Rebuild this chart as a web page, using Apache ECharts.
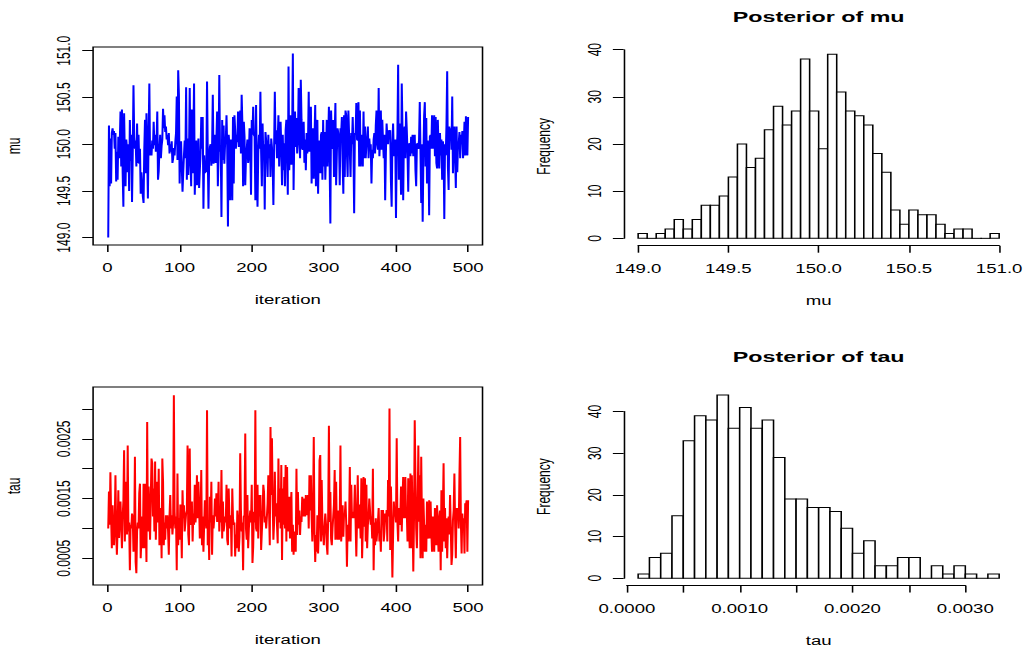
<!DOCTYPE html>
<html><head><meta charset="utf-8">
<script src="https://cdn.jsdelivr.net/npm/echarts@6.0.0/dist/echarts.min.js"></script>
<style>
html,body{margin:0;padding:0;background:#fff;overflow:hidden;width:1024px;height:648px}
#chart{width:660px;height:648px;transform:scaleX(1.551515);transform-origin:0 0}
</style></head><body><div id="chart"></div>
<script>
// ---- data ----
const muTrace = [
149.00,150.20,149.55,150.06,149.58,150.12,150.17,150.10,150.14,149.95,
150.12,149.60,149.92,149.62,150.08,149.85,150.02,150.35,149.76,150.37,
149.70,149.33,150.33,149.88,149.55,150.05,149.95,149.70,150.00,149.50,
150.26,149.82,150.10,149.38,149.90,150.63,150.08,149.95,150.04,149.76,
150.22,149.80,150.10,149.79,149.95,149.47,149.70,149.70,149.44,149.37,
149.95,150.26,149.69,150.33,149.90,149.42,150.10,150.65,149.88,149.92,
149.88,150.04,149.95,150.24,149.99,150.10,149.92,150.01,150.35,149.62,
149.71,149.95,150.10,149.85,149.98,150.05,150.38,150.17,150.31,150.13,
150.19,150.05,150.10,149.99,150.12,149.90,150.00,149.92,150.03,149.80,
149.85,149.96,149.88,150.02,150.12,150.51,149.83,150.79,150.53,149.58,
149.95,150.03,149.75,149.49,149.70,149.88,150.04,149.85,150.61,149.62,
150.06,149.67,149.90,150.60,149.85,149.55,150.37,149.69,150.05,150.65,
149.46,149.80,150.04,149.56,149.69,150.06,149.53,149.72,149.90,150.29,
149.95,150.29,149.31,149.88,149.69,149.80,149.70,150.67,149.90,149.31,
149.85,149.97,150.00,149.77,149.97,150.53,149.79,149.90,150.10,149.80,
150.05,150.35,149.55,149.90,150.74,149.92,149.98,149.22,150.26,149.83,
150.20,149.79,150.00,150.04,150.31,149.95,149.12,150.10,150.00,149.40,
150.05,149.90,149.40,150.29,149.58,150.31,150.15,149.95,150.10,150.02,
150.35,149.97,150.19,150.36,149.90,150.53,150.22,149.55,150.24,150.08,
149.56,149.85,149.95,150.05,149.80,149.87,150.17,149.95,149.46,150.26,
150.10,150.40,150.10,150.08,149.40,150.42,149.72,149.33,149.90,150.10,
149.95,150.56,149.92,149.55,150.22,149.88,150.00,149.30,150.13,150.04,
149.90,149.65,150.10,149.85,150.00,149.65,150.06,149.97,149.80,149.35,
149.95,150.56,150.00,150.15,149.85,150.05,150.31,149.76,150.04,150.24,
149.95,149.56,150.10,149.72,150.01,149.55,150.15,150.26,149.90,149.46,
150.83,149.72,150.00,150.31,149.78,150.10,150.97,149.51,150.10,150.35,
149.97,150.28,149.90,150.05,150.60,150.12,149.85,150.69,150.26,149.95,
149.94,150.24,149.80,150.05,149.72,150.12,149.90,150.00,150.56,149.92,
150.15,150.40,149.58,149.95,150.17,149.63,150.05,150.42,149.55,149.90,
150.26,149.47,150.00,150.04,149.69,150.10,150.13,149.62,150.26,149.76,
150.13,149.62,149.90,150.26,149.76,150.05,150.40,149.80,149.15,150.36,
150.04,149.95,150.26,149.65,150.10,150.44,149.56,149.90,150.17,150.12,
150.00,149.56,150.17,150.12,150.29,149.80,149.47,150.31,149.65,150.36,
150.31,149.90,149.65,150.36,150.10,149.92,149.65,150.12,150.00,150.29,
149.95,149.26,150.12,150.10,150.44,150.05,150.04,150.45,149.76,150.36,
149.76,150.00,150.10,149.76,150.35,149.85,150.19,149.85,150.00,150.06,
150.19,149.85,150.06,149.95,150.00,149.58,149.94,149.85,150.05,150.12,
149.90,150.20,150.36,150.00,149.94,150.60,149.87,150.05,150.36,149.94,
150.26,150.04,149.85,150.10,149.40,149.90,150.22,150.08,150.00,150.15,
150.10,150.15,149.60,149.33,150.00,150.22,149.87,149.95,150.05,149.21,
149.90,150.10,150.85,149.62,150.22,150.00,149.46,150.65,150.17,149.40,
150.10,150.19,149.85,150.35,150.15,149.90,149.49,150.00,150.01,149.87,
150.08,149.90,150.10,149.87,150.05,150.10,149.72,149.55,150.00,150.01,
149.95,150.05,150.45,149.90,149.37,150.00,149.17,149.85,150.30,150.45,
149.76,150.28,149.58,150.04,149.90,149.24,150.08,150.10,149.95,150.31,
149.95,150.10,150.31,149.87,150.29,149.80,149.74,150.26,149.95,149.74,
150.12,149.88,150.05,149.62,150.03,149.95,149.20,150.00,149.88,150.20,
150.78,149.76,149.51,150.19,150.05,150.17,149.94,150.51,149.69,150.05,
150.19,149.85,149.53,150.19,149.70,150.00,150.01,150.13,149.85,150.10,
150.00,150.14,149.85,150.00,150.24,149.88,150.30,149.95,149.88,150.29
];
const tauTrace = [
0.00100,0.00162,0.00106,0.00194,0.00120,0.00067,0.00139,0.00090,0.00072,0.00110,
0.00189,0.00095,0.00056,0.00100,0.00164,0.00084,0.00117,0.00145,0.00105,0.00067,
0.00120,0.00145,0.00231,0.00078,0.00130,0.00178,0.00090,0.00239,0.00095,0.00110,
0.00030,0.00106,0.00100,0.00125,0.00117,0.00061,0.00090,0.00220,0.00044,0.00025,
0.00095,0.00110,0.00100,0.00159,0.00175,0.00050,0.00083,0.00120,0.00067,0.00175,
0.00067,0.00175,0.00117,0.00044,0.00278,0.00095,0.00170,0.00125,0.00081,0.00150,
0.00217,0.00209,0.00120,0.00167,0.00095,0.00212,0.00081,0.00140,0.00178,0.00110,
0.00200,0.00072,0.00110,0.00134,0.00050,0.00217,0.00178,0.00072,0.00110,0.00081,
0.00122,0.00100,0.00122,0.00095,0.00056,0.00122,0.00156,0.00100,0.00122,0.00090,
0.00110,0.00323,0.00128,0.00100,0.00120,0.00030,0.00192,0.00072,0.00117,0.00081,
0.00140,0.00117,0.00050,0.00164,0.00117,0.00139,0.00095,0.00110,0.00125,0.00130,
0.00239,0.00090,0.00072,0.00234,0.00106,0.00120,0.00145,0.00078,0.00125,0.00106,
0.00173,0.00110,0.00130,0.00189,0.00117,0.00178,0.00139,0.00083,0.00110,0.00198,
0.00072,0.00120,0.00061,0.00106,0.00147,0.00120,0.00100,0.00298,0.00072,0.00106,
0.00047,0.00153,0.00110,0.00178,0.00056,0.00122,0.00100,0.00117,0.00150,0.00120,
0.00159,0.00111,0.00122,0.00178,0.00095,0.00130,0.00110,0.00198,0.00083,0.00145,
0.00095,0.00106,0.00120,0.00110,0.00173,0.00081,0.00072,0.00167,0.00122,0.00100,
0.00122,0.00053,0.00167,0.00117,0.00106,0.00110,0.00053,0.00090,0.00067,0.00130,
0.00111,0.00061,0.00086,0.00226,0.00130,0.00095,0.00110,0.00030,0.00120,0.00122,
0.00259,0.00100,0.00081,0.00156,0.00067,0.00100,0.00117,0.00130,0.00110,0.00173,
0.00042,0.00069,0.00128,0.00110,0.00298,0.00100,0.00095,0.00173,0.00083,0.00156,
0.00120,0.00156,0.00064,0.00095,0.00122,0.00173,0.00161,0.00110,0.00120,0.00100,
0.00120,0.00142,0.00189,0.00130,0.00072,0.00270,0.00156,0.00251,0.00145,0.00081,
0.00110,0.00195,0.00120,0.00142,0.00106,0.00075,0.00217,0.00110,0.00167,0.00100,
0.00206,0.00047,0.00167,0.00106,0.00186,0.00100,0.00206,0.00078,0.00203,0.00095,
0.00106,0.00153,0.00083,0.00134,0.00161,0.00061,0.00106,0.00056,0.00095,0.00072,
0.00061,0.00200,0.00089,0.00161,0.00106,0.00130,0.00089,0.00120,0.00111,0.00153,
0.00139,0.00120,0.00150,0.00120,0.00156,0.00122,0.00130,0.00156,0.00100,0.00189,
0.00130,0.00189,0.00120,0.00078,0.00130,0.00253,0.00095,0.00044,0.00089,0.00061,
0.00122,0.00058,0.00100,0.00214,0.00223,0.00078,0.00181,0.00106,0.00106,0.00072,
0.00106,0.00125,0.00106,0.00072,0.00056,0.00120,0.00272,0.00111,0.00161,0.00083,
0.00072,0.00100,0.00120,0.00140,0.00198,0.00081,0.00178,0.00095,0.00081,0.00130,
0.00081,0.00110,0.00239,0.00078,0.00106,0.00139,0.00086,0.00125,0.00122,0.00145,
0.00110,0.00036,0.00106,0.00078,0.00109,0.00203,0.00078,0.00173,0.00117,0.00128,
0.00117,0.00128,0.00173,0.00110,0.00053,0.00117,0.00189,0.00100,0.00140,0.00120,
0.00083,0.00184,0.00050,0.00100,0.00186,0.00103,0.00184,0.00078,0.00173,0.00067,
0.00106,0.00120,0.00150,0.00130,0.00106,0.00120,0.00083,0.00200,0.00030,0.00110,
0.00072,0.00117,0.00078,0.00095,0.00111,0.00134,0.00078,0.00095,0.00061,0.00131,
0.00111,0.00131,0.00078,0.00095,0.00125,0.00111,0.00131,0.00078,0.00181,0.00120,
0.00301,0.00064,0.00170,0.00100,0.00018,0.00089,0.00145,0.00120,0.00128,0.00110,
0.00251,0.00111,0.00078,0.00134,0.00106,0.00122,0.00170,0.00095,0.00147,0.00186,
0.00117,0.00128,0.00186,0.00117,0.00128,0.00078,0.00184,0.00110,0.00067,0.00192,
0.00067,0.00189,0.00120,0.00028,0.00117,0.00281,0.00184,0.00100,0.00067,0.00130,
0.00239,0.00111,0.00189,0.00050,0.00220,0.00111,0.00050,0.00150,0.00106,0.00061,
0.00106,0.00061,0.00145,0.00095,0.00083,0.00147,0.00083,0.00145,0.00095,0.00061,
0.00120,0.00095,0.00061,0.00134,0.00111,0.00072,0.00139,0.00100,0.00061,0.00117,
0.00130,0.00030,0.00164,0.00061,0.00120,0.00209,0.00078,0.00134,0.00067,0.00117,
0.00050,0.00100,0.00120,0.00090,0.00156,0.00100,0.00039,0.00056,0.00114,0.00130,
0.00192,0.00106,0.00050,0.00134,0.00117,0.00134,0.00100,0.00189,0.00253,0.00110,
0.00058,0.00125,0.00100,0.00117,0.00058,0.00142,0.00139,0.00147,0.00061,0.00147
];
// histogram counts (bins of equal width)
const muHistCounts = [1,0,1,2,4,2,4,7,7,9,13,20,15,17,23,28,24,27,38,27,19,39,31,27,26,24,18,14,6,3,6,5,5,3,1,2,2,0,0,1];
const muHistStart = 149.0, muHistWidth = 0.05;
const tauHistCounts = [1,5,6,15,33,39,38,44,36,41,36,38,29,19,19,17,17,16,12,6,9,3,3,5,5,0,3,1,3,1,0,1];
const tauHistStart = 0.0001, tauHistWidth = 0.0001;
// ticks and labels
const iterTicks = [0,100,200,300,400,500];
const muTraceTicks = [149.0,149.5,150.0,150.5,151.0];
const tauTraceTicks = [0.0005,0.0010,0.0015,0.0020,0.0025,0.0030];
const tauTraceLabels = [0.0005,0.0015,0.0025];
const muHistTicks = [149.0,149.5,150.0,150.5,151.0];
const tauHistTicks = [0,0.0005,0.0010,0.0015,0.0020,0.0025,0.0030];
const tauHistLabels = [0,0.0010,0.0020,0.0030];
const freqTicks = [0,10,20,30,40];

// ---- layout (unscaled px; the chart is stretched horizontally to 1024) ----
const FONT = "'Liberation Sans', Arial, Helvetica, sans-serif";
const L = {
  muTrace:  {left: 60,  top: 47,    width: 251,   height: 198},
  tauTrace: {left: 60,  top: 387,   width: 251,   height: 198},
  muHist:   {left: 402, top: 47,    width: 251.3, height: 198.7},
  tauHist:  {left: 402, top: 387.6, width: 251.3, height: 198}
};
const RX = {
  trace: [-20, 520],
  muTraceY: [148.921, 151.04],
  tauTraceY: [0.000053, 0.003368],
  muHistX: [148.92, 151.08], muHistY: [-1.56, 40.56],
  tauHistX: [-0.000028, 0.003428], tauHistY: [-1.76, 45.76]
};
function subX(p, r, a, b) { const k = p.width / (r[1] - r[0]); return {left: p.left + (a - r[0]) * k, width: (b - a) * k, top: p.top, height: p.height}; }
function subY(p, r, a, b) { const k = p.height / (r[1] - r[0]); return {left: p.left, width: p.width, top: p.top + (r[1] - b) * k, height: (b - a) * k}; }
function grid(p, box) {
  return {left: p.left, top: p.top, width: p.width, height: p.height, containLabel: false, outerBoundsMode: 'none',
    show: !!box, borderColor: '#000', borderWidth: box ? 1 : 0, backgroundColor: 'transparent'};
}
const txt = {color: '#000', fontFamily: FONT, fontSize: 12};
function axis(gi, range, o) {
  o = o || {};
  return {
    type: 'value', gridIndex: gi, min: range[0], max: range[1], show: o.hidden ? false : true,
    splitLine: {show: false},
    axisLine: {show: !!o.line, onZero: false, lineStyle: {color: '#000', width: 1}},
    axisTick: o.ticks ? {show: true, inside: false, length: 7, customValues: o.ticks, lineStyle: {color: '#000', width: 1}} : {show: false},
    axisLabel: o.labels ? Object.assign({show: true, customValues: o.labels, formatter: o.fmt, margin: o.margin, rotate: o.rotate || 0,
      hideOverlap: false, showMinLabel: true, showMaxLabel: true}, txt) : {show: false},
    name: o.name || '', nameLocation: 'middle', nameGap: o.nameGap || 0, nameTextStyle: txt
  };
}
const f1 = v => v.toFixed(1), f4 = v => v.toFixed(4), f0 = v => String(Math.round(v));
const XM = 17, YM = 13, XNG = 49, YNG = 45.5;

const gMuHx = subX(L.muHist, RX.muHistX, 149.0, 151.0);
const gMuHy = subY(L.muHist, RX.muHistY, 0, 40);
const gTauHx = subX(L.tauHist, RX.tauHistX, 0, 0.0030);
const gTauHy = subY(L.tauHist, RX.tauHistY, 0, 40);

function histData(counts, start, width) {
  return counts.map((c, i) => [start + i * width, start + (i + 1) * width, c]);
}
function histRender(params, api) {
  const p0 = api.coord([api.value(0), api.value(2)]);
  const p1 = api.coord([api.value(1), 0]);
  return {type: 'rect', shape: {x: p0[0], y: p0[1], width: p1[0] - p0[0], height: Math.max(p1[1] - p0[1], 0.01)},
    style: {fill: '#fff', stroke: '#000', lineWidth: 1}};
}

const option = {
  animation: false,
  backgroundColor: '#fff',
  grid: [grid(L.muTrace, true), grid(L.tauTrace, true), grid(L.muHist), grid(gMuHx), grid(gMuHy),
         grid(L.tauHist), grid(gTauHx), grid(gTauHy)],
  xAxis: [
    axis(0, RX.trace, {ticks: iterTicks, labels: iterTicks, fmt: f0, margin: XM, name: 'iteration', nameGap: XNG}),
    axis(1, RX.trace, {ticks: iterTicks, labels: iterTicks, fmt: f0, margin: XM, name: 'iteration', nameGap: XNG}),
    axis(2, RX.muHistX, {name: 'mu', nameGap: XNG}),
    axis(3, [149.0, 151.0], {line: true, ticks: muHistTicks, labels: muHistTicks, fmt: f1, margin: XM}),
    axis(4, [0, 1], {hidden: true}),
    axis(5, RX.tauHistX, {name: 'tau', nameGap: XNG}),
    axis(6, [0, 0.0030], {line: true, ticks: tauHistTicks, labels: tauHistLabels, fmt: f4, margin: XM}),
    axis(7, [0, 1], {hidden: true})
  ],
  yAxis: [
    axis(0, RX.muTraceY, {ticks: muTraceTicks, labels: muTraceTicks, fmt: f1, margin: YM, rotate: 90, name: 'mu', nameGap: YNG}),
    axis(1, RX.tauTraceY, {ticks: tauTraceTicks, labels: tauTraceLabels, fmt: f4, margin: YM, rotate: 90, name: 'tau', nameGap: YNG}),
    axis(2, RX.muHistY, {name: 'Frequency', nameGap: YNG}),
    axis(3, [0, 1], {hidden: true}),
    axis(4, [0, 40], {line: true, ticks: freqTicks, labels: freqTicks, fmt: f0, margin: YM, rotate: 90}),
    axis(5, RX.tauHistY, {name: 'Frequency', nameGap: YNG}),
    axis(6, [0, 1], {hidden: true}),
    axis(7, [0, 40], {line: true, ticks: freqTicks, labels: freqTicks, fmt: f0, margin: YM, rotate: 90})
  ],
  graphic: [
    {type: 'text', x: L.muHist.left + L.muHist.width / 2, y: 16.7,
     style: {text: 'Posterior of mu', fill: '#000', font: 'bold 15px ' + FONT, align: 'center', textAlign: 'center', verticalAlign: 'middle', textVerticalAlign: 'middle'}},
    {type: 'text', x: L.tauHist.left + L.tauHist.width / 2, y: 356.9,
     style: {text: 'Posterior of tau', fill: '#000', font: 'bold 15px ' + FONT, align: 'center', textAlign: 'center', verticalAlign: 'middle', textVerticalAlign: 'middle'}}
  ],
  series: [
    {type: 'line', xAxisIndex: 0, yAxisIndex: 0, showSymbol: false, symbol: 'none', clip: false,
     lineStyle: {color: '#0000ff', width: 1.3}, itemStyle: {color: '#0000ff'},
     data: muTrace.map((v, i) => [i + 1, v])},
    {type: 'line', xAxisIndex: 1, yAxisIndex: 1, showSymbol: false, symbol: 'none', clip: false,
     lineStyle: {color: '#ff0000', width: 1.3}, itemStyle: {color: '#ff0000'},
     data: tauTrace.map((v, i) => [i + 1, v])},
    {type: 'custom', xAxisIndex: 2, yAxisIndex: 2, clip: false, renderItem: histRender,
     encode: {x: [0, 1], y: 2}, data: histData(muHistCounts, muHistStart, muHistWidth)},
    {type: 'custom', xAxisIndex: 5, yAxisIndex: 5, clip: false, renderItem: histRender,
     encode: {x: [0, 1], y: 2}, data: histData(tauHistCounts, tauHistStart, tauHistWidth)}
  ]
};
const chart = echarts.init(document.getElementById('chart'), null, {renderer: 'svg', width: 660, height: 648});
chart.setOption(option);
</script></body></html>
